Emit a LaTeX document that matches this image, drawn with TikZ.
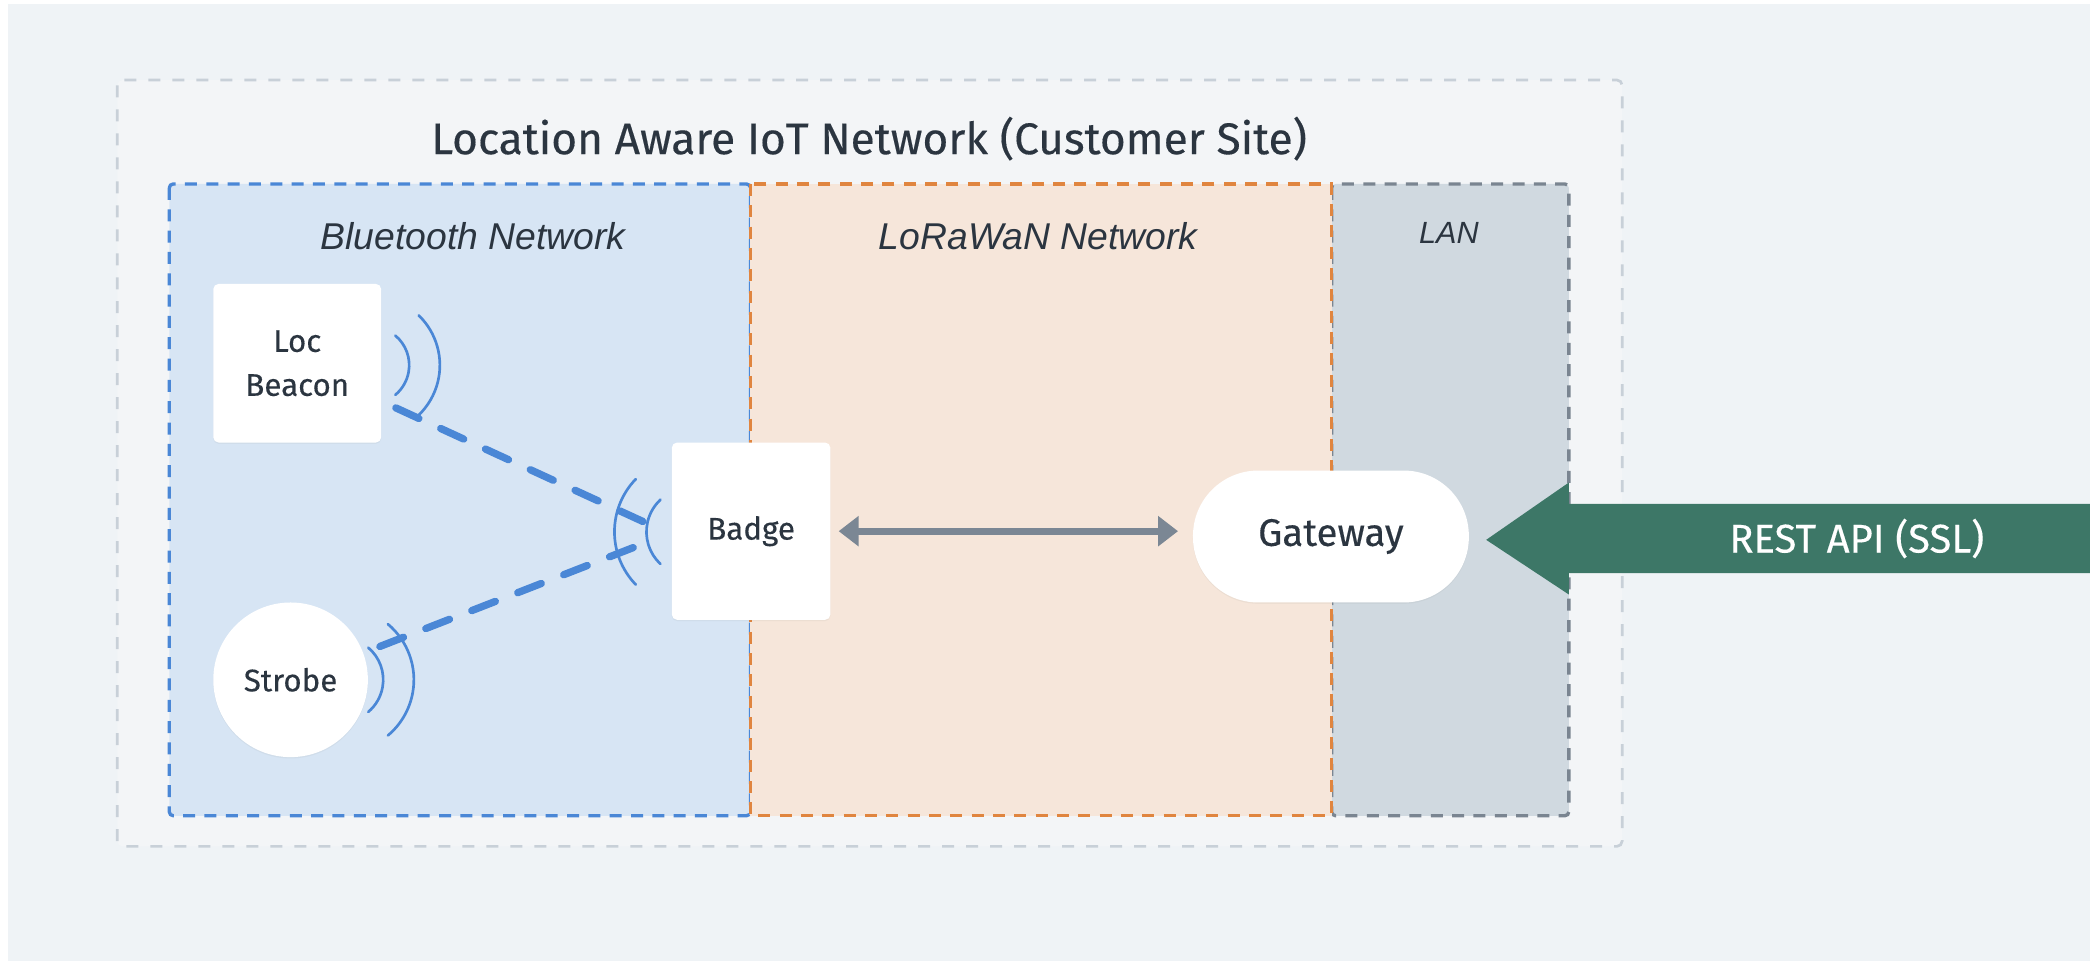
\documentclass[tikz,border=0pt]{standalone}
\usepackage{fontspec}
\setmainfont{Fira Sans}
\newfontfamily\devfont{Fira Sans}[FakeBold=0.3]
\newfontfamily\lblfont{Liberation Sans}
\usetikzlibrary{arrows.meta,shadows}
\definecolor{bgc}{HTML}{EFF3F6}
\definecolor{sitefill}{HTML}{F3F5F7}
\definecolor{sitedash}{HTML}{C8D0D8}
\definecolor{btfill}{HTML}{D7E5F4}
\definecolor{btdash}{HTML}{4A87D6}
\definecolor{lorafill}{HTML}{F6E6DA}
\definecolor{loradash}{HTML}{E0853F}
\definecolor{lanfill}{HTML}{D0D9E0}
\definecolor{landash}{HTML}{7A8591}
\definecolor{arrowgray}{HTML}{7B8794}
\definecolor{apigreen}{HTML}{3D7767}
\definecolor{sigblue}{HTML}{4A87D6}
\definecolor{txt}{HTML}{2B3540}
\begin{document}
\begin{tikzpicture}[x=1pt,y=-1pt,
  device/.style={fill=white, text=txt, align=center,
    drop shadow={opacity=0.08, shadow xshift=0pt, shadow yshift=-1pt},
    font=\devfont\fontsize{23.5}{33}\selectfont},
  boxdev/.style={device, rectangle, rounded corners=4pt, inner sep=0pt},
  regionlbl/.style={text=txt, font=\lblfont\itshape\fontsize{28}{32}\selectfont},
  sigarc/.style={draw=sigblue, line width=2pt, line cap=round},
  sigline/.style={draw=sigblue, line width=5.5pt, line cap=round, dash pattern=on 19pt off 18pt},
  regionbox/.style={line width=2.5pt, dash pattern=on 9pt off 7pt}
]
\useasboundingbox (0,0) rectangle (1568,721);
\fill[white] (0,0) rectangle (1568,721);
\fill[bgc] (6,3) rectangle (1568,721);

% customer site
\draw[sitedash, fill=sitefill, line width=2pt, dash pattern=on 9pt off 9pt, rounded corners=4pt]
  (88,60) rectangle (1217,635);
\node[text=txt, font=\devfont\fontsize{33.2}{38}\selectfont] (title) at (652,104) {Location Aware IoT Network (Customer Site)};

% regions
\draw[regionbox, btdash, fill=btfill, rounded corners=3pt] (127,138) rectangle (563,612);
\draw[regionbox, landash, fill=lanfill, rounded corners=3pt] (999,138) rectangle (1177,612);
\draw[regionbox, loradash, fill=lorafill] (563,138) rectangle (999,612);

\node[regionlbl] (btlbl) at (355,177) {Bluetooth Network};
\node[regionlbl] (loralbl) at (779,177) {LoRaWaN Network};
\node[regionlbl, font=\lblfont\itshape\fontsize{23}{26}\selectfont] (lanlbl) at (1087,175) {LAN};

% devices
\node[boxdev, minimum width=126pt, minimum height=119pt] (loc) at (223,272.5) {Loc\\Beacon};
\node[device, circle, minimum size=116pt, inner sep=0pt] (strobe) at (218,510) {Strobe};
\node[boxdev, minimum width=119pt, minimum height=133pt] (badge) at (563.5,398.5) {Badge};
\node[device, rectangle, rounded corners=49pt, minimum width=207pt, minimum height=99pt, inner sep=0pt,
  font=\devfont\fontsize{28.8}{32}\selectfont] (gateway) at (998.5,402.5) {Gateway};

% signal arcs
\coordinate (locc) at (278,274);
\draw[sigarc] ([shift={(-50:29)}]locc) arc[start angle=-50, end angle=50, radius=29];
\draw[sigarc] ([shift={(-46:52)}]locc) arc[start angle=-46, end angle=46, radius=52];
\coordinate (strc) at (256,510);
\draw[sigarc] ([shift={(-50:31.5)}]strc) arc[start angle=-50, end angle=50, radius=31.5];
\draw[sigarc] ([shift={(-50:54.5)}]strc) arc[start angle=-50, end angle=50, radius=54.5];
\coordinate (bdgc) at (518,399);
\draw[sigarc] ([shift={(136:57)}]bdgc) arc[start angle=136, end angle=224, radius=57];
\draw[sigarc] ([shift={(133:33)}]bdgc) arc[start angle=133, end angle=227, radius=33];

% signal links
\coordinate (locout) at (297,306);
\coordinate (badgeinA) at (484,392);
\coordinate (strout) at (285,485);
\coordinate (badgeinB) at (490,405);
\draw[sigline] (locout) -- (badgeinA);
\draw[sigline] (strout) -- (badgeinB);

% LoRaWaN link
\coordinate (gwin) at (badge.east -| gateway.west);
\draw[arrowgray, line width=5pt, {Triangle[length=15pt,width=22pt]}-{Triangle[length=15pt,width=22pt]},
  shorten <=6pt, shorten >=11pt] (badge.east) -- (gwin);

% REST API arrow
\fill[apigreen] (1115,405) -- (1177,362) -- (1177,378) -- (1568,378) -- (1568,430) -- (1177,430) -- (1177,446) -- cycle;
\node[text=white, font=\devfont\fontsize{30}{34}\selectfont] (api) at (1393,404) {REST API (SSL)};
\end{tikzpicture}
\end{document}
